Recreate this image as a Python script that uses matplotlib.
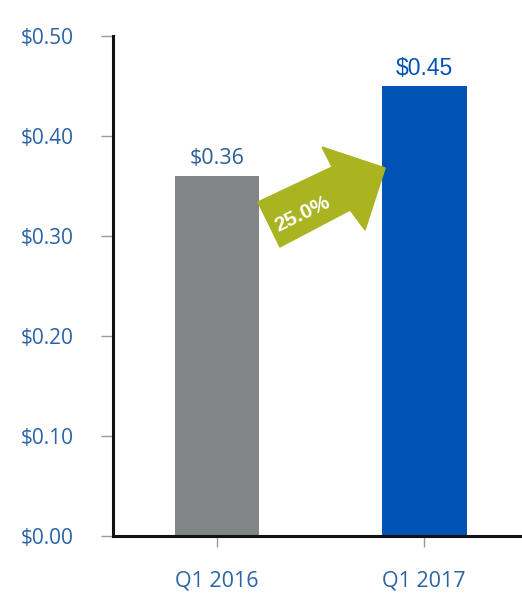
import matplotlib; matplotlib.use("Agg")
import matplotlib.pyplot as plt
from matplotlib.patches import Polygon

# data
quarters = ["Q1 2016", "Q1 2017"]
eps = [0.36, 0.45]
bar_colors = ["#818586", "#0052b4"]
growth_label = "25.0%"
yticks = [0.0, 0.1, 0.2, 0.3, 0.4, 0.5]

blue_txt = "#2a63a6"

fig = plt.figure(figsize=(5.22, 5.95), dpi=100)
ax = fig.add_axes([0.2165, 0.0992, 0.7835, 0.8403])

x = list(range(len(quarters)))
ax.bar(x, eps, width=0.41, color=bar_colors, zorder=2)
ax.set_xlim(-0.502, 1.473)
ax.set_ylim(0, 0.5)

ax.set_yticks(yticks)
ax.set_yticklabels([f"${v:.2f}" for v in yticks], family="Open Sans",
                   fontsize=15, color=blue_txt)
ax.set_xticks(x)
ax.set_xticklabels(quarters, family="Open Sans", fontsize=15.5, color=blue_txt)
ax.tick_params(axis="y", length=9, width=1, color="#9a9a9a", pad=19)
ax.tick_params(axis="x", length=8, width=1, color="#9a9a9a", pad=17)

for s in ["top", "right"]:
    ax.spines[s].set_visible(False)
for s in ["left", "bottom"]:
    ax.spines[s].set_linewidth(2.2)
    ax.spines[s].set_color("#111111")

# value labels
ax.text(x[0], eps[0] + 0.007, f"${eps[0]:.2f}", ha="center", va="bottom",
        family="Open Sans", fontsize=15.5, color="#2f5f99")
ax.text(x[1], eps[1] + 0.006, f"${eps[1]:.2f}", ha="center", va="bottom",
        family="Liberation Sans", fontsize=16.5, color="#0052b4")

# growth arrow (between the two bars)
arrow = [(0.198, 0.334), (0.556, 0.369), (0.507, 0.389), (0.812, 0.368),
         (0.715, 0.306), (0.643, 0.326), (0.304, 0.289)]
ax.add_patch(Polygon(arrow, closed=True, color="#a9b420", zorder=3))
ax.text(0.415, 0.322, growth_label, rotation=26, ha="center", va="center",
        family="Liberation Sans", fontweight="bold", fontsize=15,
        color="white", zorder=4, rotation_mode="anchor")

fig.savefig("out.png", dpi=100)
